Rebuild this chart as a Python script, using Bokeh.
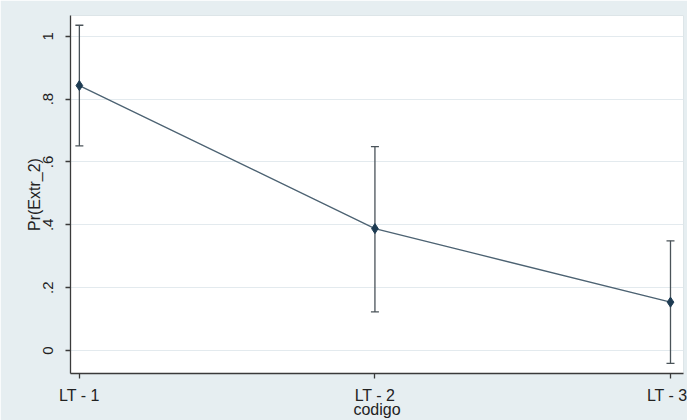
from bokeh.plotting import figure
from bokeh.models import ColumnDataSource, Whisker, TeeHead, FixedTicker, Range1d
from bokeh.embed import file_html
from bokeh.resources import INLINE

# Data
categories = ["LT - 1", "LT - 2", "LT - 3"]
pr_values = [0.843, 0.388, 0.154]
ci_lower = [0.651, 0.123, -0.041]
ci_upper = [1.035, 0.649, 0.349]
y_ticks = [0, 0.2, 0.4, 0.6, 0.8, 1.0]
y_tick_labels = ["0", ".2", ".4", ".6", ".8", "1"]

x_pos = list(range(1, len(categories) + 1))

src = ColumnDataSource(dict(x=x_pos, y=pr_values, lower=ci_lower, upper=ci_upper, cat=categories))

FONT = "Liberation Sans"
BG = "#e6eef1"

p = figure(width=687, height=420, output_backend="svg", toolbar_location=None,
           x_range=Range1d(0.97, 3.044), y_range=Range1d(-0.073, 1.066),
           min_border_left=70, min_border_right=4, min_border_top=15, min_border_bottom=43)
p.background_fill_color = "white"
p.border_fill_color = BG
p.outline_line_color = "#dde5e8"

# Axes
p.xaxis.ticker = FixedTicker(ticks=x_pos)
p.xaxis.major_label_overrides = {x: c for x, c in zip(x_pos, categories)}
p.yaxis.ticker = FixedTicker(ticks=y_ticks)
p.yaxis.major_label_overrides = {t: l for t, l in zip(y_ticks, y_tick_labels)}
p.yaxis.major_label_orientation = "vertical"

for ax in (p.xaxis[0], p.yaxis[0]):
    ax.axis_line_color = "#3a3a3a"
    ax.axis_line_width = 1.3
    ax.major_tick_line_color = "#3a3a3a"
    ax.major_tick_line_width = 1.3
    ax.major_tick_out = 5
    ax.major_tick_in = 0
    ax.minor_tick_line_color = None
    ax.major_label_text_font = FONT
    ax.major_label_text_color = "#222222"
    ax.axis_label_text_font = FONT
    ax.axis_label_text_font_style = "normal"
    ax.axis_label_text_color = "#222222"

p.xaxis.major_label_text_font_size = "16px"
p.xaxis.axis_label = "codigo"
p.xaxis.axis_label_text_font_size = "16px"
p.xaxis.major_label_standoff = 8
p.xaxis.axis_label_standoff = -6

p.yaxis.major_label_text_font_size = "15px"
p.yaxis.axis_label = "Pr(Extr_2)"
p.yaxis.axis_label_text_font_size = "16px"
p.yaxis.major_label_standoff = 12
p.yaxis.axis_label_standoff = -2

p.xgrid.grid_line_color = None
p.ygrid.grid_line_color = "#e3eaee"
p.ygrid.grid_line_width = 1

# Error bars
w = Whisker(source=src, base="x", lower="lower", upper="upper",
            line_color="#4a5359", line_width=1.3,
            upper_head=TeeHead(size=8, line_color="#4a5359", line_width=1.3),
            lower_head=TeeHead(size=8, line_color="#4a5359", line_width=1.3))
p.add_layout(w)

# Line and markers
p.line("x", "y", source=src, line_color="#4c6272", line_width=1.3)
p.scatter("x", "y", source=src, marker="diamond", size=10,
          fill_color="#1d3b52", line_color="#1d3b52")

open("out.html", "w").write(file_html(p, INLINE))
